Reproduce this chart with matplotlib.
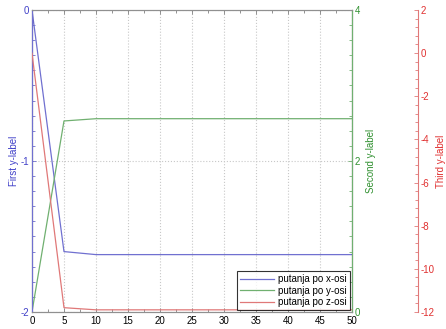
import matplotlib.pyplot as plt
from matplotlib.ticker import MultipleLocator
import numpy as np

plt.rcParams['font.family'] = ['Liberation Sans', 'DejaVu Sans']
plt.rcParams['font.size'] = 7
plt.rcParams['axes.unicode_minus'] = False

t = [0, 5, 10, 15, 20, 25, 30, 35, 40, 45, 50]
x_osi = [0, -1.60, -1.62, -1.62, -1.62, -1.62, -1.62, -1.62, -1.62, -1.62, -1.62]
y_osi = [0, 2.53, 2.56, 2.56, 2.56, 2.56, 2.56, 2.56, 2.56, 2.56, 2.56]
z_osi = [0, -11.8, -11.9, -11.9, -11.9, -11.9, -11.9, -11.9, -11.9, -11.9, -11.9]

c_blue = '#4040c8'
c_green = '#309030'
c_red = '#e03030'
l_blue = '#7070d0'
l_green = '#70b070'
l_red = '#e07878'

fig = plt.figure(figsize=(4.46, 3.29), dpi=100)
ax1 = fig.add_axes([0.0717, 0.0517, 0.7175, 0.918])
ax2 = ax1.twinx()
ax3 = ax1.twinx()
ax3.spines['right'].set_position(('axes', 1.206))

p1, = ax1.plot(t, x_osi, color=l_blue, lw=0.9, label='putanja po x-osi')
p2, = ax2.plot(t, y_osi, color=l_green, lw=0.9, label='putanja po y-osi')
p3, = ax3.plot(t, z_osi, color=l_red, lw=0.9, label='putanja po z-osi')

ax1.set_xlim(0, 50)
ax1.set_ylim(-2, 0)
ax2.set_ylim(0, 4)
ax3.set_ylim(-12, 2)

ax1.xaxis.set_major_locator(MultipleLocator(5))
ax1.xaxis.set_minor_locator(MultipleLocator(2.5))
ax1.yaxis.set_major_locator(MultipleLocator(1))
ax1.yaxis.set_minor_locator(MultipleLocator(0.1))
ax2.yaxis.set_major_locator(MultipleLocator(2))
ax2.yaxis.set_minor_locator(MultipleLocator(0.2))
ax3.yaxis.set_major_locator(MultipleLocator(2))
ax3.yaxis.set_minor_locator(MultipleLocator(0.4))

ax1.grid(True, which='major', color='#c8c8c8', linestyle=':', lw=0.8)

for a in (ax1, ax2, ax3):
    a.tick_params(direction='in', which='both', pad=2, width=0.6)
    a.tick_params(which='major', length=3)
    a.tick_params(which='minor', length=2)
ax1.tick_params(axis='x', which='both', top=True, colors='#808080',
                labelcolor='black', pad=3)

ax1.tick_params(axis='y', which='both', colors=l_blue, labelcolor=c_blue)
ax2.tick_params(axis='y', which='both', colors=l_green, labelcolor=c_green)
ax3.tick_params(axis='y', which='both', colors=l_red, labelcolor=c_red)

for s in ('top', 'bottom'):
    ax1.spines[s].set_color('#909090')
ax2.spines['left'].set_color(l_blue)
ax2.spines['right'].set_color(l_green)
ax2.spines['top'].set_color('#909090')
ax2.spines['bottom'].set_color('#909090')
ax3.spines['right'].set_color(l_red)
for s in ('left', 'top', 'bottom'):
    ax3.spines[s].set_visible(False)

ax1.set_ylabel('First y-label', color=c_blue, labelpad=1)
ax2.set_ylabel('Second y-label', color=c_green, labelpad=4)
ax3.set_ylabel('Third y-label', color=c_red, labelpad=1)

leg = ax3.legend(handles=[p1, p2, p3], loc='lower right', fontsize=7,
                 fancybox=False, edgecolor='black', borderaxespad=0.2,
                 handlelength=3.5, handletextpad=0.5, labelspacing=0.15,
                 borderpad=0.3)
leg.get_frame().set_linewidth(0.8)

fig.savefig('out.png', dpi=100)
